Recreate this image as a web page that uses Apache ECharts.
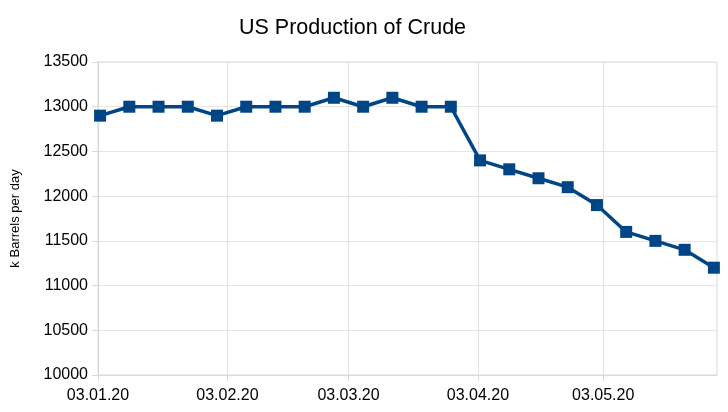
<!DOCTYPE html>
<html>
<head>
<meta charset="utf-8">
<script src="https://cdn.jsdelivr.net/npm/echarts@6/dist/echarts.min.js"></script>
<style>html,body{margin:0;padding:0;background:#fff}#c{width:728px;height:412px}</style>
</head>
<body>
<div id="c"></div>
<script>
const dates = ['2020-01-03','2020-01-10','2020-01-17','2020-01-24','2020-01-31','2020-02-07','2020-02-14','2020-02-21','2020-02-28','2020-03-06','2020-03-13','2020-03-20','2020-03-27','2020-04-03','2020-04-10','2020-04-17','2020-04-24','2020-05-01','2020-05-08','2020-05-15','2020-05-22','2020-05-29'];
const production = [12900,13000,13000,13000,12900,13000,13000,13000,13100,13000,13100,13000,13000,12400,12300,12200,12100,11900,11600,11500,11400,11200];
const tickDates = ['2020-01-03','2020-02-03','2020-03-03','2020-04-03','2020-05-03'];
const axisMinDate = '2020-01-03';
const axisMaxDate = '2020-05-30';

function ts(s){const p=s.split('-').map(Number);return Date.UTC(p[0],p[1]-1,p[2]);}
function pad(n){return (n<10?'0':'')+n;}
function fmt(v){const d=new Date(v);return pad(d.getUTCDate())+'.'+pad(d.getUTCMonth()+1)+'.'+String(d.getUTCFullYear()).slice(2);}

const tickTs = tickDates.map(ts);
const chart = echarts.init(document.getElementById('c'));
chart.setOption({
  animation:false,
  title:{text:'US Production of Crude',left:234,top:12,textStyle:{fontFamily:'Liberation Sans',fontSize:21.5,fontWeight:'normal',color:'#000'}},
  grid:{left:98,right:11,top:62,bottom:37,show:true,borderColor:'#d9d9d9',borderWidth:1},
  xAxis:{type:'value',min:ts(axisMinDate),max:ts(axisMaxDate)+21600000,
    axisLine:{show:true,lineStyle:{color:'#d9d9d9'}},
    axisTick:{show:true,length:6,lineStyle:{color:'#d9d9d9'},customValues:tickTs},
    axisLabel:{customValues:tickTs,formatter:fmt,fontFamily:'Liberation Sans',fontSize:16,color:'#000',margin:13},
    splitLine:{show:false}},
  yAxis:{type:'value',min:10000,max:13500,interval:500,
    name:'k Barrels per day',nameLocation:'middle',nameGap:76,nameRotate:90,
    nameTextStyle:{fontFamily:'Liberation Sans',fontSize:13,color:'#000'},
    axisLine:{show:true,lineStyle:{color:'#d9d9d9'}},
    axisTick:{show:true,length:6,lineStyle:{color:'#d9d9d9'}},
    axisLabel:{formatter:v=>String(v),fontFamily:'Liberation Sans',fontSize:16,color:'#000',margin:10},
    splitLine:{show:true,lineStyle:{color:'#e6e6e6'}}},
  series:[{type:'line',data:dates.map((d,i)=>[ts(d)+43200000,production[i]]),
    symbol:'rect',symbolSize:12,
    lineStyle:{color:'#004586',width:3.5},itemStyle:{color:'#004586'},
    markLine:{silent:true,z:1,symbol:'none',label:{show:false},lineStyle:{color:'#e0e0e0',type:'solid',width:1},
      data:tickTs.slice(1).map(t=>({xAxis:t}))},
    z:3}]
});
</script>
</body>
</html>
